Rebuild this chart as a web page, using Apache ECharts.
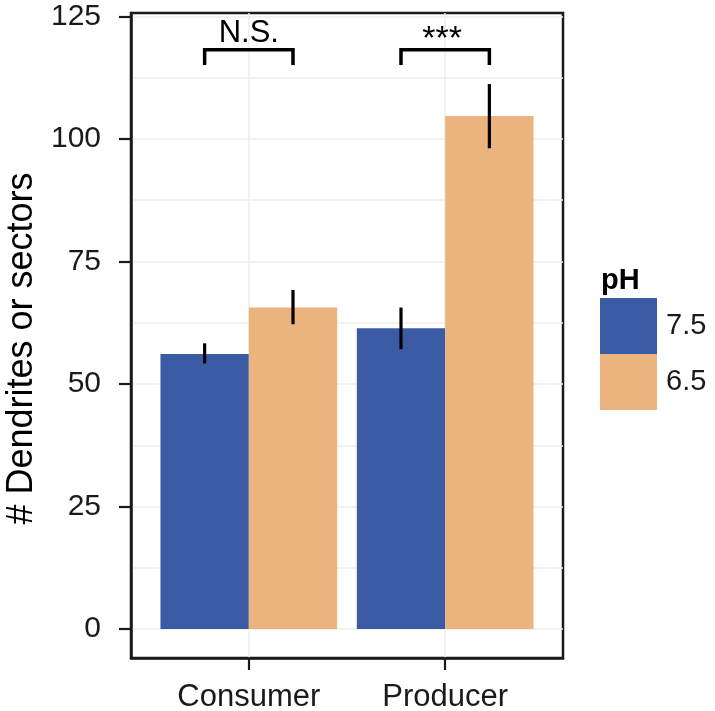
<!DOCTYPE html>
<html>
<head>
<meta charset="utf-8">
<script src="https://cdn.jsdelivr.net/npm/echarts@6/dist/echarts.min.js"></script>
<style>
html,body{margin:0;padding:0;background:#fff;}
#chart{width:715px;height:711px;}
</style>
</head>
<body>
<div id="chart"></div>
<script>
const categories = ['Consumer', 'Producer'];
const phLevels = ['7.5', '6.5'];
const mean75 = [56.1, 61.4];
const low75 = [54.2, 57.1];
const high75 = [58.3, 65.6];
const mean65 = [65.6, 104.7];
const low65 = [62.2, 98.1];
const high65 = [69.2, 111.2];
const bracketTop = [118.2, 118.2];
const bracketTip = [115.1, 115.1];
const sigLabels = ['N.S.', '***'];
const yTicks = [0, 25, 50, 75, 100, 125];
const xTicks = [1, 2];

const FONT = '"Liberation Sans", Arial, Helvetica, sans-serif';
const colors = ['#3b5ba5', '#ebb47f'];
const dodge = 0.45;

const gridValues = [];
yTicks.forEach((v, i) => { gridValues.push(v); if (i < yTicks.length - 1) gridValues.push((v + yTicks[i + 1]) / 2); });

function barRender(from, to) {
  return function (params, api) {
    const c = api.value(0), v = api.value(1), lo = api.value(2), hi = api.value(3);
    const p0 = api.coord([c + from, v]);
    const p1 = api.coord([c + to, 0]);
    const m = c + (from + to) / 2;
    const e0 = api.coord([m, lo]);
    const e1 = api.coord([m, hi]);
    return {
      type: 'group',
      children: [
        { type: 'rect', shape: { x: p0[0], y: p0[1], width: p1[0] - p0[0], height: p1[1] - p0[1] }, style: { fill: api.visual('color') } },
        { type: 'line', shape: { x1: e0[0], y1: e0[1], x2: e1[0], y2: e1[1] }, style: { stroke: '#000', lineWidth: 3.2 } }
      ]
    };
  };
}

function bracketRender(params, api) {
  const c = api.value(0), top = api.value(1), tip = api.value(2);
  const a = api.coord([c - dodge / 2, tip]);
  const b = api.coord([c - dodge / 2, top]);
  const d = api.coord([c + dodge / 2, top]);
  const e = api.coord([c + dodge / 2, tip]);
  const t = api.coord([c, top]);
  const label = sigLabels[params.dataIndex];
  const isStar = label.indexOf('*') >= 0;
  return {
    type: 'group',
    children: [
      { type: 'polyline', shape: { points: [a, b, d, e] }, style: { stroke: '#000', lineWidth: 3.5, fill: null } },
      { type: 'text', style: { text: label, x: t[0] - (isStar ? 3 : 0), y: t[1] - 1 + (isStar ? 8 : 0), textAlign: 'center', textVerticalAlign: 'bottom', font: (isStar ? '34px ' : '31px ') + FONT, fill: '#000' } }
    ]
  };
}

const chart = echarts.init(document.getElementById('chart'), null, { renderer: 'canvas' });
chart.setOption({
  backgroundColor: '#fff',
  animation: false,
  title: {
    text: 'pH', left: 596, top: 261,
    textStyle: { fontFamily: FONT, fontSize: 29, fontWeight: 'bold', color: '#000' }
  },
  legend: {
    data: phLevels, orient: 'vertical', left: 595, top: 293,
    itemWidth: 57, itemHeight: 56, itemGap: 0, icon: 'rect',
    itemStyle: { borderWidth: 0 },
    textStyle: { fontFamily: FONT, fontSize: 29, color: '#1a1a1a', padding: [6, 0, 0, 4] },
    selectedMode: false
  },
  grid: {
    left: 131, right: 152, top: 13, bottom: 53,
    containLabel: false, outerBoundsMode: 'none',
    show: true, borderColor: '#1a1a1a', borderWidth: 2.5, backgroundColor: 'transparent'
  },
  xAxis: {
    type: 'value', min: 0.4, max: 2.6,
    axisLine: { show: true, onZero: false, lineStyle: { color: '#1a1a1a', width: 2.5 } },
    splitLine: { show: false },
    axisTick: { show: true, customValues: xTicks, length: 12, lineStyle: { color: '#1a1a1a', width: 2.2 } },
    axisLabel: {
      customValues: xTicks, margin: 24,
      formatter: v => categories[Math.round(v) - 1] || '',
      fontFamily: FONT, fontSize: 31, color: '#1a1a1a'
    }
  },
  yAxis: {
    type: 'value', min: -5.9, max: 125.7,
    name: '# Dendrites or sectors', nameLocation: 'middle', nameRotate: 90, nameGap: 90,
    nameTextStyle: { fontFamily: FONT, fontSize: 36, color: '#000', padding: [0, 26, 0, 0] },
    axisLine: { show: true, onZero: false, lineStyle: { color: '#1a1a1a', width: 2.5 } },
    splitLine: { show: false },
    axisTick: { show: true, customValues: yTicks, length: 12, lineStyle: { color: '#1a1a1a', width: 2.2 } },
    axisLabel: { customValues: yTicks, margin: 30, fontFamily: FONT, fontSize: 30, color: '#1a1a1a' }
  },
  series: [
    {
      type: 'line', data: [], z: 1, silent: true,
      markLine: {
        silent: true, symbol: 'none', z: 0, label: { show: false },
        lineStyle: { color: '#ececec', width: 1.5, type: 'solid' },
        emphasis: { disabled: true },
        data: gridValues.map(v => ({ yAxis: v })).concat(xTicks.map(v => ({ xAxis: v })))
      }
    },
    {
      name: phLevels[0], type: 'custom', z: 3, itemStyle: { color: colors[0] },
      renderItem: barRender(-dodge, 0),
      data: categories.map((c, i) => [i + 1, mean75[i], low75[i], high75[i]])
    },
    {
      name: phLevels[1], type: 'custom', z: 3, itemStyle: { color: colors[1] },
      renderItem: barRender(0, dodge),
      data: categories.map((c, i) => [i + 1, mean65[i], low65[i], high65[i]])
    },
    {
      type: 'custom', z: 4, silent: true,
      renderItem: bracketRender,
      data: categories.map((c, i) => [i + 1, bracketTop[i], bracketTip[i]])
    }
  ]
});
</script>
</body>
</html>
